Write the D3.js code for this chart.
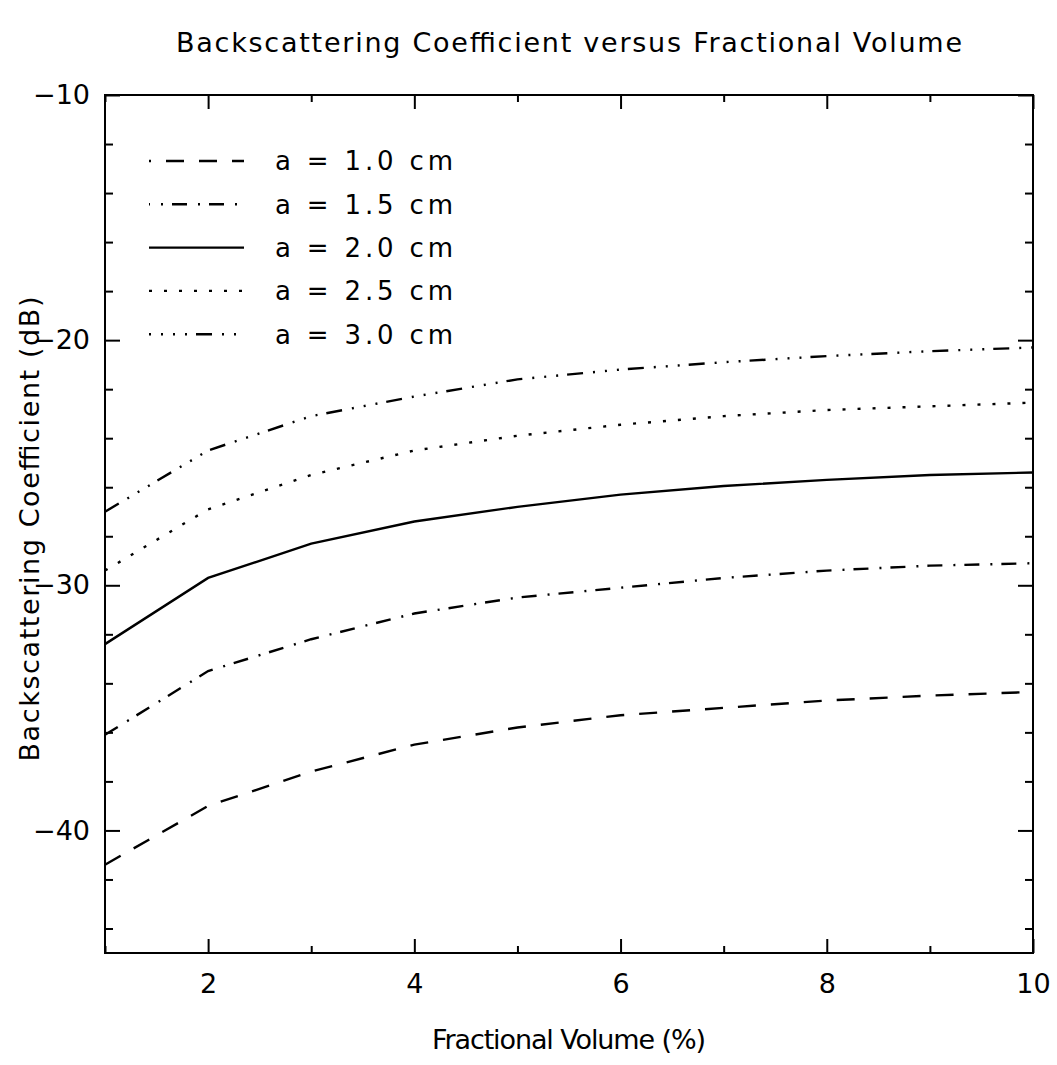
<!DOCTYPE html>
<html>
<head>
<meta charset="utf-8">
<script src="https://cdnjs.cloudflare.com/ajax/libs/d3/7.8.5/d3.min.js"></script>
<style>
    body { margin: 0; background: #fff; }
    text { font-family: "DejaVu Sans", sans-serif; fill: #000; }
</style>
</head>
<body>
<svg id="chart" width="1057" height="1065"></svg>
<script>
// values
var fractionalVolume = [1, 2, 3, 4, 5, 6, 7, 8, 9, 10];
var radius10 = [-41.4, -39.0, -37.6, -36.5, -35.8, -35.3, -35.0, -34.7, -34.5, -34.35];
var radius15 = [-36.1, -33.5, -32.2, -31.15, -30.5, -30.1, -29.7, -29.4, -29.2, -29.1];
var radius20 = [-32.4, -29.7, -28.3, -27.4, -26.8, -26.3, -25.95, -25.7, -25.5, -25.4];
var radius25 = [-29.4, -26.9, -25.5, -24.5, -23.9, -23.45, -23.1, -22.85, -22.7, -22.55];
var radius30 = [-27.0, -24.5, -23.1, -22.3, -21.6, -21.2, -20.9, -20.65, -20.45, -20.3];
var seriesLabels = ["a = 1.0 cm", "a = 1.5 cm", "a = 2.0 cm", "a = 2.5 cm", "a = 3.0 cm"];

var xMajorTicks = [2, 4, 6, 8, 10];
var xMinorTicks = [1, 3, 5, 7, 9];
var yMajorTicks = [-10, -20, -30, -40];
var yMinorTicks = [-12, -14, -16, -18, -22, -24, -26, -28, -32, -34, -36, -38, -42, -44];

var titleText = "Backscattering Coefficient versus Fractional Volume";
var xTitle = "Fractional Volume (%)";
var yTitle = "Backscattering Coefficient (dB)";

(function () {
    var svg = d3.select("#chart");
    var left = 105, right = 1033, top = 95, bottom = 953;
    var fontSize = 27;

    var x = d3.scaleLinear().domain([1, 10]).range([left, right]);
    var y = d3.scaleLinear().domain([-45, -10]).range([bottom, top]);

    var series = [radius10, radius15, radius20, radius25, radius30];
    // IDL style line patterns: dashed, dash-dot, solid, dotted, dash-dot-dot-dot
    var dashes = ["18,15", "15,11,2,9", null, "3,12", "16,10,2,10,2,10,2,9"];
    var legendOffsets = [16, 14, 0, 0, 14];

    function styleAxis(g) {
        g.select(".domain").remove();
        g.selectAll("line").attr("stroke", "#000").attr("stroke-width", 2);
        g.selectAll("text")
            .attr("font-size", fontSize)
            .attr("font-family", "DejaVu Sans, sans-serif")
            .attr("fill", "#000");
    }

    var fmt = function (d) { return d3.format("d")(d).replace("-", "\u2212"); };

    // major + minor ticks on all four sides, pointing inward
    svg.append("g").attr("transform", "translate(0," + bottom + ")")
        .call(d3.axisBottom(x).tickValues(xMajorTicks).tickSize(-14).tickPadding(21).tickFormat(d3.format("d")))
        .call(styleAxis);
    svg.append("g").attr("transform", "translate(0," + bottom + ")")
        .call(d3.axisBottom(x).tickValues(xMinorTicks).tickSize(-7).tickFormat(""))
        .call(styleAxis);
    svg.append("g").attr("transform", "translate(0," + top + ")")
        .call(d3.axisTop(x).tickValues(xMajorTicks).tickSize(-14).tickFormat(""))
        .call(styleAxis);
    svg.append("g").attr("transform", "translate(0," + top + ")")
        .call(d3.axisTop(x).tickValues(xMinorTicks).tickSize(-7).tickFormat(""))
        .call(styleAxis);

    svg.append("g").attr("transform", "translate(" + left + ",0)")
        .call(d3.axisLeft(y).tickValues(yMajorTicks).tickSize(-15).tickPadding(15).tickFormat(fmt))
        .call(styleAxis);
    svg.append("g").attr("transform", "translate(" + left + ",0)")
        .call(d3.axisLeft(y).tickValues(yMinorTicks).tickSize(-8).tickFormat(""))
        .call(styleAxis);
    svg.append("g").attr("transform", "translate(" + right + ",0)")
        .call(d3.axisRight(y).tickValues(yMajorTicks).tickSize(-15).tickFormat(""))
        .call(styleAxis);
    svg.append("g").attr("transform", "translate(" + right + ",0)")
        .call(d3.axisRight(y).tickValues(yMinorTicks).tickSize(-8).tickFormat(""))
        .call(styleAxis);

    svg.append("rect")
        .attr("x", left).attr("y", top)
        .attr("width", right - left).attr("height", bottom - top)
        .attr("fill", "none").attr("stroke", "#000").attr("stroke-width", 2);

    var line = d3.line()
        .x(function (d, i) { return x(fractionalVolume[i]); })
        .y(function (d) { return y(d); });

    svg.append("g").selectAll("path")
        .data(series)
        .enter().append("path")
        .attr("d", line)
        .attr("fill", "none")
        .attr("stroke", "#000")
        .attr("stroke-width", 2.4)
        .attr("stroke-dasharray", function (d, i) { return dashes[i]; });

    // legend
    var legend = svg.append("g").selectAll("g")
        .data(seriesLabels)
        .enter().append("g")
        .attr("transform", function (d, i) { return "translate(0," + (161 + i * 43.3) + ")"; });

    legend.append("line")
        .attr("x1", 149).attr("x2", 244)
        .attr("stroke", "#000")
        .attr("stroke-width", 2.4)
        .attr("stroke-dasharray", function (d, i) { return dashes[i]; })
        .attr("stroke-dashoffset", function (d, i) { return legendOffsets[i]; });

    legend.append("text")
        .attr("x", 275).attr("dy", "0.36em")
        .attr("font-size", 26)
        .attr("textLength", 178).attr("lengthAdjust", "spacing")
        .text(function (d) { return d; });

    // titles
    svg.append("text")
        .attr("x", (left + right) / 2).attr("y", 52)
        .attr("text-anchor", "middle")
        .attr("font-size", fontSize)
        .attr("textLength", 786).attr("lengthAdjust", "spacing")
        .text(titleText);

    svg.append("text")
        .attr("x", (left + right) / 2).attr("y", 1049)
        .attr("text-anchor", "middle")
        .attr("font-size", fontSize)
        .attr("textLength", 274).attr("lengthAdjust", "spacing")
        .text(xTitle);

    svg.append("text")
        .attr("transform", "translate(39,529) rotate(-90)")
        .attr("text-anchor", "middle")
        .attr("font-size", fontSize)
        .attr("textLength", 465).attr("lengthAdjust", "spacing")
        .text(yTitle);
})();
</script>
</body>
</html>
